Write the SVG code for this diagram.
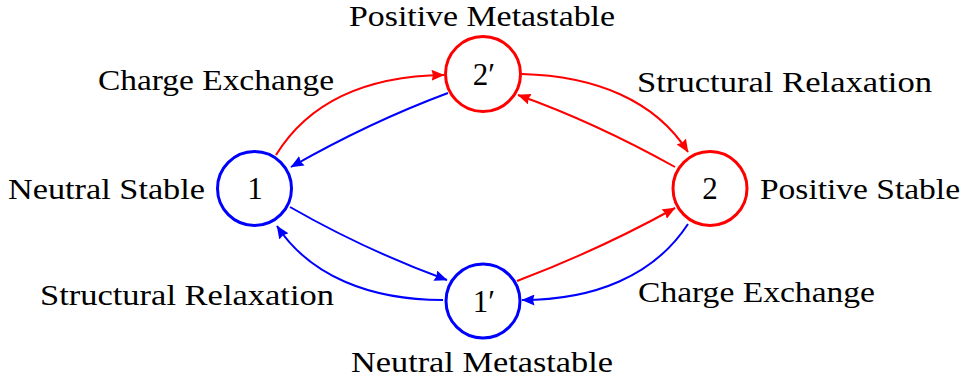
<svg xmlns="http://www.w3.org/2000/svg" width="963" height="383" viewBox="0 0 963 383">
<style>
text{font-family:"Liberation Serif","Times New Roman",serif;font-size:30px;fill:#000}
.node circle{fill:#fff;stroke-width:3}
.red circle{stroke:#ff0000}
.blue circle{stroke:#0000ff}
.nl{text-anchor:middle;font-size:31px}
.e{fill:none;stroke-width:2}
.er{stroke:#ff0000;marker-end:url(#ar)}
.eb{stroke:#0000ff;marker-end:url(#ab)}
</style>
<defs>
<marker id="ar" markerUnits="userSpaceOnUse" markerWidth="14" markerHeight="11" refX="12.5" refY="5.5" orient="auto" viewBox="0 0 14 11"><path d="M0,0 L13,5.5 L0,11 L1.5,5.5 Z" fill="#ff0000"/></marker>
<marker id="ab" markerUnits="userSpaceOnUse" markerWidth="14" markerHeight="11" refX="12.5" refY="5.5" orient="auto" viewBox="0 0 14 11"><path d="M0,0 L13,5.5 L0,11 L1.5,5.5 Z" fill="#0000ff"/></marker>
</defs>
<rect width="963" height="383" fill="#fff"/>
<g id="connectors">
<path class="e er" d="M276,155 C310,100 370,76 444,75"/>
<path class="e eb" d="M448,93 Q370,122 291,167"/>
<path class="e er" d="M522,74 C595,76 655,100 688,152"/>
<path class="e er" d="M675,167 Q594,122 518,95"/>
<path class="e eb" d="M290,207 Q365,250 447,280"/>
<path class="e eb" d="M443,300 C370,300 310,276 277,226"/>
<path class="e er" d="M517,281 Q599,250 675,208"/>
<path class="e eb" d="M688,224 C654,276 594,300 522,300"/>
</g>
<g id="n1" class="node blue"><circle cx="254.5" cy="188.5" r="37"/><text class="nl" x="255" y="199">1</text></g>
<g id="n2p" class="node red"><circle cx="483" cy="74" r="37.5"/><text class="nl" x="484" y="85">2′</text></g>
<g id="n2" class="node red"><circle cx="710" cy="188.5" r="37"/><text class="nl" x="710" y="199">2</text></g>
<g id="n1p" class="node blue"><circle cx="483" cy="301" r="37"/><text class="nl" x="484" y="312">1′</text></g>
<g id="labels">
<text x="349" y="26" textLength="266" lengthAdjust="spacingAndGlyphs">Positive Metastable</text>
<text x="98" y="90" textLength="236" lengthAdjust="spacingAndGlyphs">Charge Exchange</text>
<text x="637" y="92" textLength="295" lengthAdjust="spacingAndGlyphs">Structural Relaxation</text>
<text x="8" y="199" textLength="197" lengthAdjust="spacingAndGlyphs">Neutral Stable</text>
<text x="760" y="199" textLength="200" lengthAdjust="spacingAndGlyphs">Positive Stable</text>
<text x="40" y="305" textLength="294" lengthAdjust="spacingAndGlyphs">Structural Relaxation</text>
<text x="638" y="302" textLength="237" lengthAdjust="spacingAndGlyphs">Charge Exchange</text>
<text x="351" y="372" textLength="262" lengthAdjust="spacingAndGlyphs">Neutral Metastable</text>
</g>
</svg>
